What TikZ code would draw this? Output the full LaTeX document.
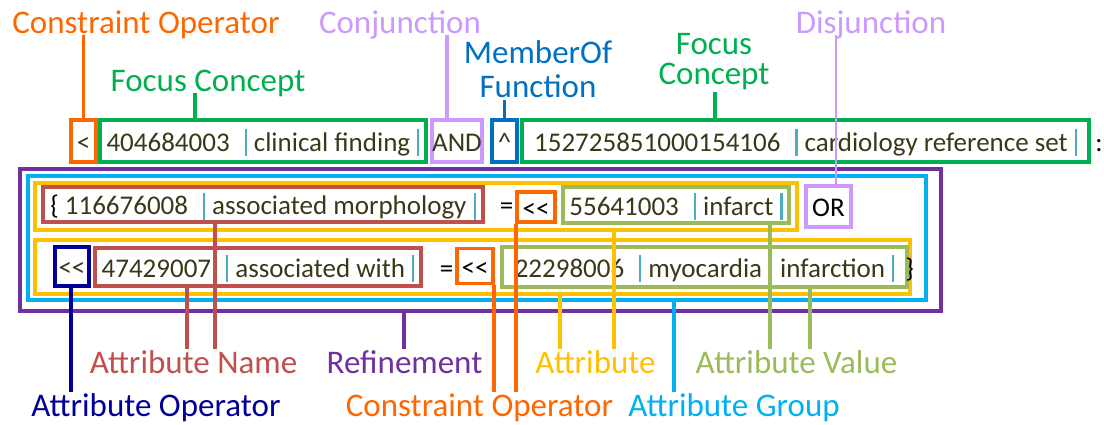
\documentclass[tikz,border=0pt]{standalone}
\usepackage{fontspec}
\setmainfont{Carlito}
\usepackage{xcolor}
\usetikzlibrary{positioning}
\tikzset{font={\fontsize{27pt}{30pt}\selectfont}}
\definecolor{corange}{HTML}{FF6600}
\definecolor{cgreen}{HTML}{00B050}
\definecolor{clav}{HTML}{CC99FF}
\definecolor{cblue}{HTML}{0070C0}
\definecolor{cpurple}{HTML}{7030A0}
\definecolor{ccyan}{HTML}{00B0F0}
\definecolor{cyellow}{HTML}{FFC000}
\definecolor{cred}{HTML}{C0504D}
\definecolor{colive}{HTML}{9BBB59}
\definecolor{cnavy}{HTML}{000099}
\definecolor{cbar}{HTML}{4BACC6}
\definecolor{ctext}{HTML}{3A3818}
\newcommand{\idbar}{\hspace{7pt}{\color{cbar}\rule[-5pt]{2.2pt}{27pt}}\hspace{7pt}}
\newcommand{\dlt}{<\kern0pt<}
\newcommand{\labfont}{\fontsize{33pt}{36pt}\selectfont}

\begin{document}
\begin{tikzpicture}[x=1pt,y=-1pt,
frame/.style={draw=#1,line width=3.4pt,inner sep=0pt,text height=24pt,text depth=4pt,text=ctext},
txt/.style={inner sep=0pt,text height=24pt,text depth=4pt},
labtxt/.style={font=\labfont,text=#1,inner sep=2pt},
lab/.style={labtxt=#1,text height=22pt,text depth=0pt,anchor=base},
lab2/.style={labtxt=#1,align=center},
lead/.style={draw=#1,line width=3.2pt}
]
\useasboundingbox (0,0) rectangle (1104,424);

\node[frame=cpurple,line width=3.8pt,minimum width=921,minimum height=142] (ref) at (480.5,240) {};
\node[frame=ccyan,minimum width=898,minimum height=124] (grp) at (477,238) {};
\node[frame=cyellow,minimum width=762,minimum height=47] (attr1) at (416,206.5) {};
\node[frame=cyellow,minimum width=875,minimum height=54] (attr2) at (472.5,267) {};

\node[frame=corange,minimum width=25,minimum height=42] (co1) at (83.5,141) {<};
\node[frame=cgreen,minimum width=326,minimum height=42] (fc1) at (263,141) {404684003\hspace{8pt}\idbar clinical finding\idbar};
\node[frame=clav,minimum width=50,minimum height=42] (and) at (457,141) {AND};
\node[frame=cblue,minimum width=25,minimum height=42] (mof) at (504.5,141) {\textasciicircum};
\node[frame=cgreen,minimum width=567,minimum height=42] (fc2) at (805.5,141) {152725851000154106\hspace{8pt}\idbar cardiology reference set\idbar};
\node[txt,right=4.5pt of fc2] (colon) {:};

\node[frame=cred,minimum width=440,minimum height=35] (an1) at (263,204.5) {{\color{black}\{} 116676008\hspace{8pt}\idbar associated morphology\idbar};
\node[txt,right=15pt of an1] (eq1) {=};
\node[frame=corange,text=black,minimum width=38,minimum height=30] (co2) at (536,207) {\dlt};
\node[frame=colive,minimum width=226,minimum height=36] (av1) at (676,205) {55641003\hspace{8pt}\idbar infarct\idbar};
\node[frame=clav,text=black,minimum width=45,minimum height=41] (or) at (828.5,206.5) {OR};

\node[frame=cnavy,minimum width=34,minimum height=39] (ao) at (72,266.5) {\dlt};
\node[frame=cred,minimum width=326,minimum height=38] (an2) at (258,267) {47429007\hspace{8pt}\idbar associated with\idbar};
\node[txt,right=17pt of an2] (eq2) {=};
\node[frame=corange,text=black,minimum width=36,minimum height=35] (co3) at (475,266) {\dlt};
\node[frame=colive,minimum width=405,minimum height=40] (av2) at (704.5,267) {22298006\hspace{8pt}\idbar myocardia\hspace{12pt} infarction\idbar};
\node[txt] (close) at (909.5,267) {\}};

\node[lab=corange] (lco1) at (146,33) {Constraint Operator};
\node[lab=cgreen] (lfc1) at (208,91) {Focus Concept};
\node[lab=clav] (lconj) at (400,33) {Conjunction};
\node[lab2=cblue,font=\fontsize{33pt}{34pt}\selectfont] (lmof) at (538,69) {MemberOf\\Function};
\node[lab2=cgreen,font=\fontsize{33pt}{30pt}\selectfont] (lfc2) at (714,62) {Focus\\Concept};
\node[lab=clav] (ldis) at (871,33) {Disjunction};

\node[lab=cred] (lan) at (193.5,373) {Attribute Name};
\node[lab=cpurple] (lref) at (404.5,373) {Refinement};
\node[lab=cyellow] (lat) at (595.5,373) {Attribute};
\node[lab=colive] (lav) at (796.5,373) {Attribute Value};
\node[lab=cnavy] (lao) at (156,416) {Attribute Operator};
\node[lab=corange] (lco2) at (479.5,416) {Constraint Operator};
\node[lab=ccyan] (lgrp) at (734,416) {Attribute Group};

\foreach \n/\x/\l/\c in {co1/83.5/lco1/corange,fc1/195/lfc1/cgreen,and/447/lconj/clav,mof/504.5/lmof/cblue,fc2/715/lfc2/cgreen}
  \draw[lead=\c] (\n.north -| \x,0) -- (\l.south -| \x,0);
\draw[lead=clav,line width=2.6pt] (or.north -| 836,0) -- (ldis.south -| 836,0);
\foreach \n/\x/\l/\c in {ao/71/lao/cnavy,an2/187/lan/cred,an1/215/lan/cred,ref/404/lref/cpurple,co3/494/lco2/corange,co2/516/lco2/corange,attr2/560/lat/cyellow,attr1/614/lat/cyellow,grp/674/lgrp/ccyan,av1/770/lav/colive,av2/810/lav/colive}
  \draw[lead=\c] (\n.south -| \x,0) -- (\l.north -| \x,0);

\end{tikzpicture}
\end{document}
